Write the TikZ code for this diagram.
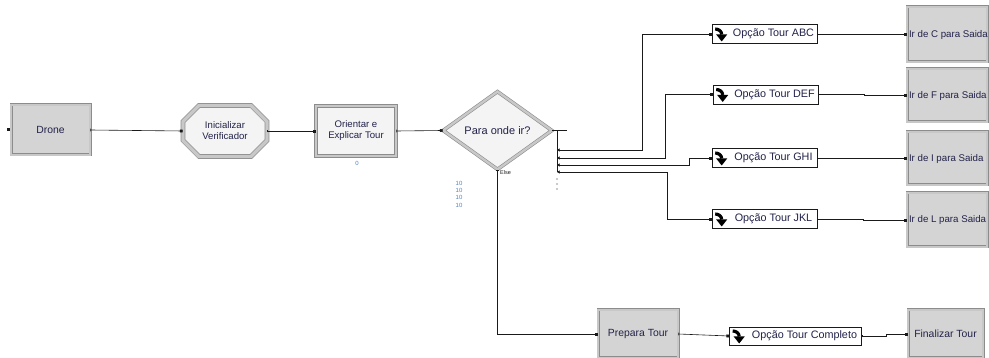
\documentclass[tikz,border=0pt]{standalone}
\usepackage{fontspec}
\setmainfont{Liberation Sans}
\usetikzlibrary{arrows.meta,shapes.geometric,shapes.misc}
\definecolor{ink}{HTML}{22224A}
\definecolor{labelBlue}{HTML}{4F80C4}
\definecolor{moduleGray}{HTML}{D4D4D4}
\definecolor{paleFill}{HTML}{F4F4F4}
\definecolor{frameDark}{HTML}{8C8C8C}
\definecolor{frameLight}{HTML}{C8C8C8}
\definecolor{wireBlack}{HTML}{1A1A1A}
\tikzset{
  module box/.style={
    rectangle,
    draw=frameDark,
    double=frameLight,
    double distance=1.8pt,
    line width=0.6pt,
    fill=moduleGray,
    font=\fontsize{10.4}{12}\selectfont,
    text=ink,
    align=center,
    inner sep=0pt
  },
  task box/.style={
    module box,
    fill=paleFill,
    double distance=2.6pt,
    font=\fontsize{9.6}{11}\selectfont
  },
  assign box/.style={
    task box,
    chamfered rectangle,
    chamfered rectangle xsep=8pt,
    chamfered rectangle ysep=8pt,
    double distance=3.4pt
  },
  decide box/.style={
    diamond,
    aspect=1.4,
    draw=frameDark,
    double=frameLight,
    double distance=2.4pt,
    line width=0.6pt,
    fill=paleFill,
    font=\fontsize{11}{13}\selectfont,
    text=ink,
    inner sep=0pt
  },
  route box/.style={
    rectangle,
    draw=wireBlack,
    fill=white,
    line width=0.6pt,
    font=\fontsize{10.8}{13}\selectfont,
    text=ink,
    inner xsep=1.5pt,
    inner ysep=0pt,
    minimum height=19pt
  },
  exit box/.style={
    module box,
    font=\fontsize{9.7}{12}\selectfont,
    minimum width=80pt
  },
  port mark/.style={
    rectangle,
    fill=wireBlack,
    minimum size=3pt,
    inner sep=0pt
  },
  count label/.style={
    font=\fontsize{6}{7.3}\selectfont,
    text=labelBlue,
    align=center,
    inner sep=0pt
  },
  else label/.style={
    font=\fontsize{5.5}{6.5}\selectfont,
    text=wireBlack,
    inner sep=0pt
  },
  wire/.style={
    {Bar[width=2.6pt,line width=0.6pt]}-{Square[length=2.8pt,width=2.8pt]},
    draw=wireBlack,
    line width=0.6pt
  },
  branch wire/.style={
    {Triangle[length=2.6pt,width=3pt]}-{Square[length=2.8pt,width=2.8pt]},
    draw=wireBlack,
    line width=0.6pt
  },
  turn icon/.pic={
    \draw[line width=3.2pt,draw=black] (-6.5pt,5pt) to[out=0,in=90] (0pt,-0.5pt);
    \fill[black] (-5.5pt,-0.5pt) -- (5.5pt,-0.5pt) -- (0pt,-7.5pt) -- cycle;
  }
}
\newcommand{\leftText}[1]{\makebox[78pt][l]{\hspace{1pt}#1}}

\begin{document}
\begin{tikzpicture}[x=1pt,y=-1pt]
  \useasboundingbox (0,0) rectangle (989,358);
  \clip (0,0) rectangle (989,358);

  % main line
  \node[module box,minimum width=79pt,minimum height=50pt] (drone) at (50.5,130) {Drone};
  \node[port mark] (drone-port) at ([xshift=-2pt]drone.west) {};
  \node[assign box,minimum width=84pt,minimum height=51pt] (init) at (225,131) {Inicializar\\Verificador};
  \node[task box,minimum width=80pt,minimum height=50pt] (orient) at (356,131) {Orientar e\\Explicar Tour};
  \node[count label] (orient-count) at (357,163) {0};
  \node[decide box,minimum width=109pt,minimum height=78pt] (decide) at (497.5,130.5) {Para onde ir?};
  \node[else label,anchor=west] (else-label) at (500,173) {Else};
  \node[count label] (decide-counts) at (459,194) {10\\10\\10\\10};

  % branch bar
  \coordinate (fork) at (557,131);
  \coordinate (e1) at (557,150);
  \coordinate (e2) at (557,158);
  \coordinate (e3) at (557,165);
  \coordinate (e4) at (557,172);
  \foreach \y in {179,184,189}
    \fill[wireBlack] (557,\y) circle (0.6pt);

  % tour options
  \node[route box,minimum width=105pt] (abc) at (764.5,34) {\hspace*{18pt}Opção Tour ABC};
  \node[route box,minimum width=105pt] (def) at (765.5,94.5) {\hspace*{18pt}Opção Tour DEF};
  \node[route box,minimum width=105pt] (ghi) at (764.5,158) {\hspace*{18pt}Opção Tour GHI};
  \node[route box,minimum width=105pt] (jkl) at (764.5,219) {\hspace*{18pt}Opção Tour JKL};
  \node[route box,minimum width=132pt,minimum height=18pt] (completo) at (795.5,336) {\hspace*{18pt}Opção Tour Completo};
  \foreach \opt in {abc,def,ghi,jkl,completo}
    \pic at ([xshift=10pt]\opt.west) {turn icon};

  % exits
  \node[exit box,minimum height=55pt] (irc) at (947,34.5) {\leftText{Ir de C para Saida}};
  \node[exit box,minimum height=53pt] (irf) at (947,95.5) {\leftText{Ir de F para Saida}};
  \node[exit box,minimum height=53pt] (iri) at (947,158.5) {\leftText{Ir de I para Saida}};
  \node[exit box,minimum height=54pt] (irl) at (947,220) {\leftText{Ir de L para Saida}};

  % bottom line
  \node[module box,minimum width=80pt,minimum height=48pt] (prep) at (638,334) {Prepara Tour};
  \node[module box,minimum width=75pt,minimum height=48pt] (fin) at (945.5,334) {Finalizar Tour};

  \draw[wire] (drone.east) -- (init.west);
  \draw[wire] (init.east) -- (orient.west);
  \draw[wire] (orient.east) -- (decide.west);
  \draw[draw=wireBlack,line width=0.6pt] (decide.east) -- ++(15pt,0);
  \draw[draw=wireBlack,line width=0.8pt] (fork) -- (e4);
  \draw[branch wire] (e1) -- ++(85pt,0) |- (abc.west);
  \draw[branch wire] (e2) -- ++(108pt,0) |- (def.west);
  \draw[branch wire] (e3) -- ++(132pt,0) |- (ghi.west);
  \draw[branch wire] (e4) -- ++(110pt,0) |- (jkl.west);
  \draw[wire] (abc.east) -- ++(46pt,0) |- (irc.west);
  \draw[wire] (def.east) -- ++(46pt,0) |- (irf.west);
  \draw[wire] (ghi.east) -- ++(46pt,0) |- (iri.west);
  \draw[wire] (jkl.east) -- ++(46pt,0) |- (irl.west);
  \draw[wire] (decide.south) |- (prep.west);
  \draw[wire] (prep.east) -- (completo.west);
  \draw[wire] (completo.east) -- ++(24pt,0) |- (fin.west);
\end{tikzpicture}
\end{document}
